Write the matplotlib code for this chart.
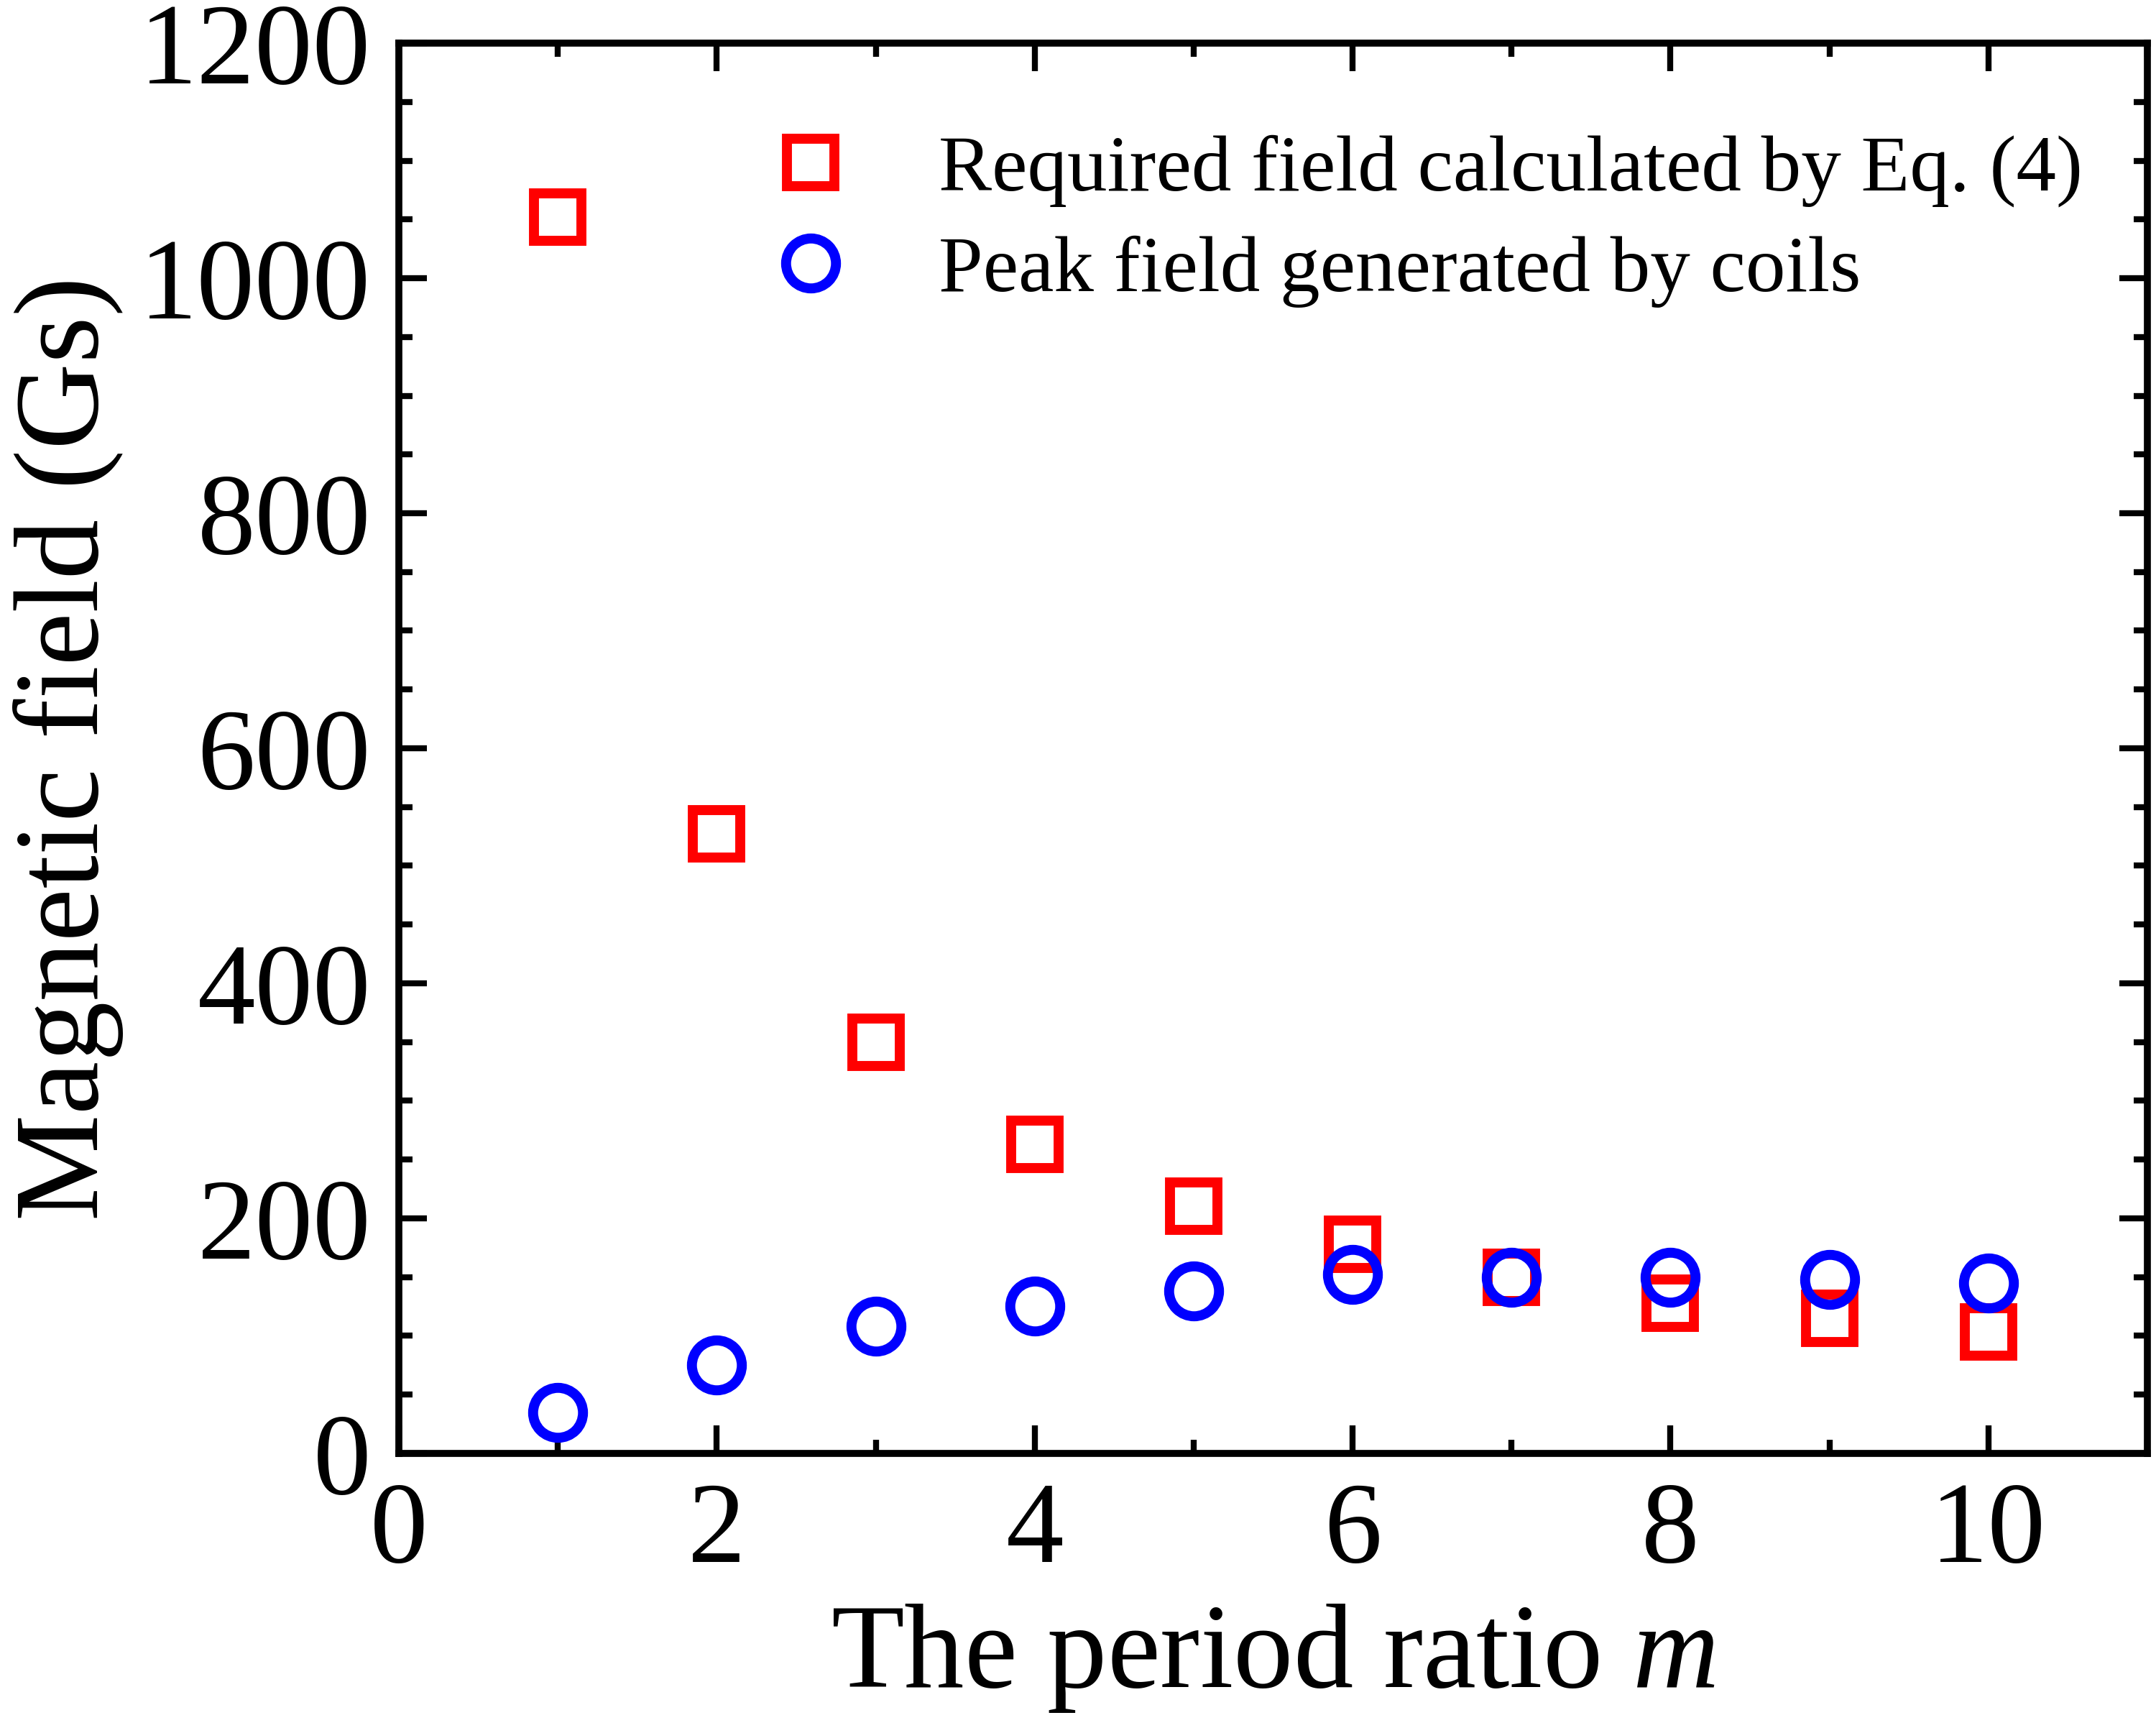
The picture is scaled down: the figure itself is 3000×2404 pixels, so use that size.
import matplotlib.pyplot as plt
from matplotlib.ticker import MultipleLocator

plt.rcParams['font.family'] = ['Liberation Serif', 'DejaVu Serif']
plt.rcParams['mathtext.fontset'] = 'custom'
plt.rcParams['mathtext.it'] = 'Liberation Serif:italic'

m = [1, 2, 3, 4, 5, 6, 7, 8, 9, 10]
required = [1052, 527, 350, 263, 210, 178, 150, 128, 115, 103]
peak = [35, 75, 108, 125, 138, 152, 150, 150, 148, 145]

fig = plt.figure(figsize=(15, 12.02), dpi=200)
ax = fig.add_axes([0.185, 0.159, 0.811, 0.816])

ax.plot(m, required, 's', mfc='none', mec='#ff0000', ms=24, mew=5,
        label='Required field calculated by Eq. (4)')
ax.plot(m, peak, 'o', mfc='none', mec='#0000ff', ms=25, mew=5,
        label='Peak field generated by coils')

ax.set_xlim(0, 11)
ax.set_ylim(0, 1200)
ax.xaxis.set_major_locator(MultipleLocator(2))
ax.xaxis.set_minor_locator(MultipleLocator(1))
ax.yaxis.set_major_locator(MultipleLocator(200))
ax.yaxis.set_minor_locator(MultipleLocator(50))
ax.tick_params(which='both', direction='in', top=True, right=True, width=3)
ax.tick_params(which='major', length=14, labelsize=58, pad=14)
ax.tick_params(which='minor', length=7)
for s in ax.spines.values():
    s.set_linewidth(3.5)

ax.set_xlabel('The period ratio $m$', fontsize=60, labelpad=8)
ax.set_ylabel('Magnetic field (Gs)', fontsize=60, labelpad=8)

ax.legend(loc='upper right', bbox_to_anchor=(0.995, 0.975), fontsize=40,
          frameon=False, handletextpad=0.6, borderaxespad=0.3,
          labelspacing=0.35)

fig.savefig('out.png')
